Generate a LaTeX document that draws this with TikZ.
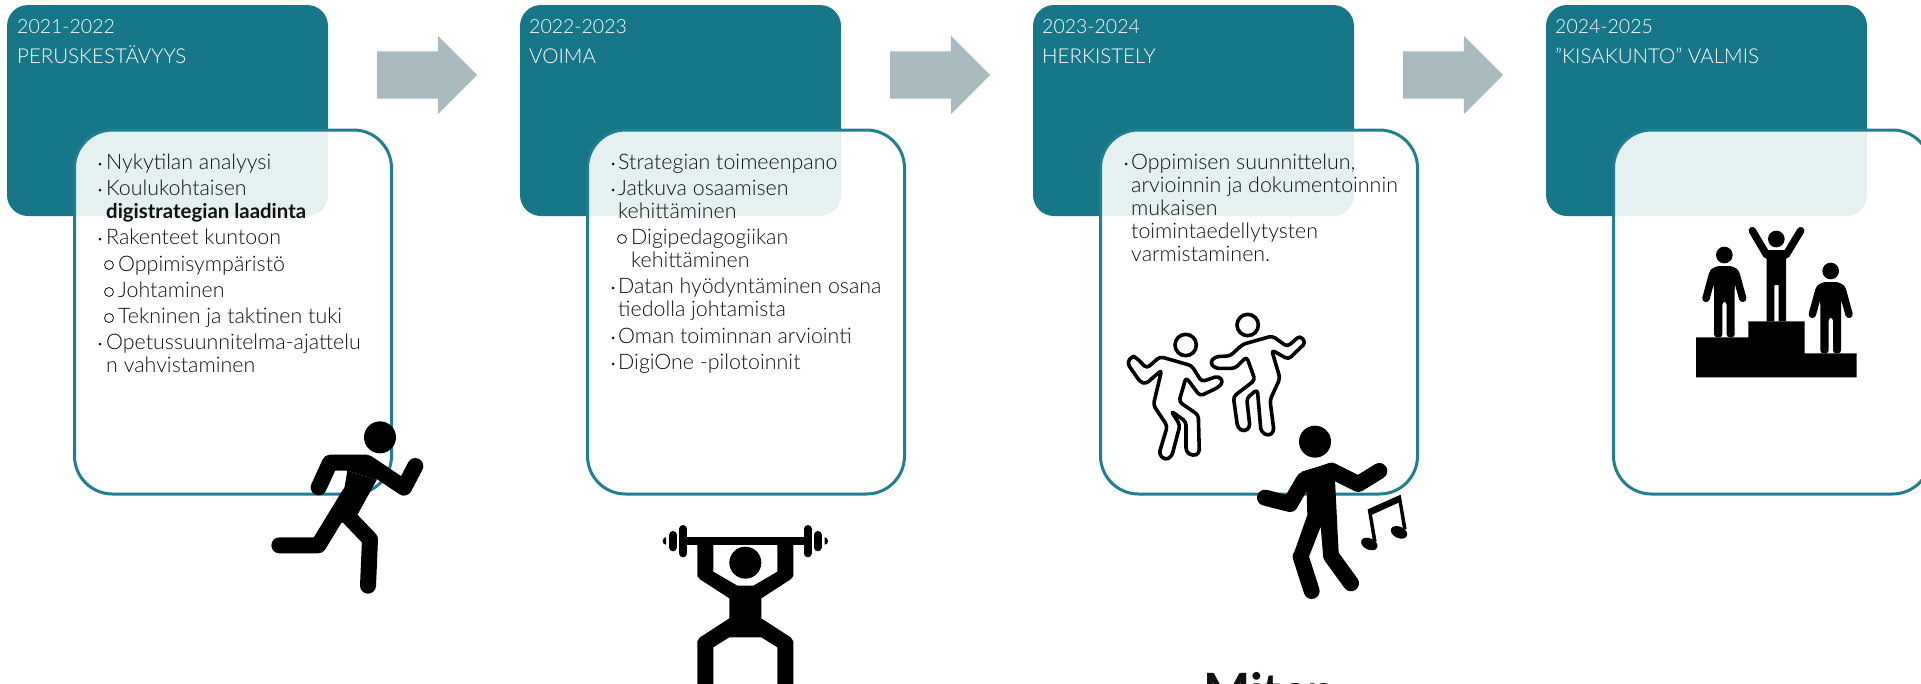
\documentclass[tikz,border=0pt]{standalone}
\usepackage{fontspec}
\setmainfont{Lato Light}[BoldFont=Lato Bold]
\usetikzlibrary{shapes.arrows}
\definecolor{tealbox}{HTML}{157788}
\definecolor{tealline}{HTML}{1F7F91}
\definecolor{greyarrow}{HTML}{AABBC0}
\definecolor{bodyink}{HTML}{111111}
\tikzstyle{yearbox} = [rectangle, rounded corners=21, minimum width=321, minimum height=211, inner sep=0, outer sep=0, fill=tealbox]
\tikzstyle{infobox} = [rectangle, rounded corners=38, minimum width=317, minimum height=364, inner sep=0, outer sep=0, draw=tealline, line width=3, fill=white, fill opacity=0.89]
\tikzstyle{nextarrow} = [single arrow, single arrow head extend=15.5, minimum height=100, inner xsep=0, inner ysep=23.5, outer sep=0, fill=greyarrow, anchor=tail]
\tikzstyle{header} = [anchor=base west, inner sep=0, text=white, font=\fontsize{20.5}{24}\selectfont]
\tikzstyle{yeartext} = [anchor=base west, inner sep=0, text=white, font=\fontsize{19.5}{24}\selectfont]
\tikzstyle{itemtext} = [anchor=base west, inner sep=0, text=bodyink, font=\fontsize{21.4}{24}\selectfont]
\tikzstyle{dotmark} = [circle, minimum size=3, inner sep=0, fill=bodyink]
\tikzstyle{ringmark} = [circle, minimum size=9, inner sep=0, draw=bodyink, line width=0.8]
\tikzstyle{limb} = [line width=16, line cap=round, line join=round, black]
\tikzstyle{plate} = [line width=8, line cap=round, black]
\tikzstyle{thinlimb} = [line width=7.5, line cap=round, line join=round, black]
\tikzstyle{outline} = [line width=3.6, line join=round, rounded corners=3.5, black]
\begin{document}
\begin{tikzpicture}[x=1pt,y=-1pt]
    \useasboundingbox (0,0) rectangle (1921,683);
    \clip (0,0) rectangle (1921,683);

    % year boxes and the boxes over them
    \node (year1) [yearbox] at (167.5,110.5) {};
    \node (year2) [yearbox] at (680.5,110.5) {};
    \node (year3) [yearbox] at (1193.5,110.5) {};
    \node (year4) [yearbox] at (1706.5,110.5) {};
    \node (info1) [infobox] at (233,312) {};
    \node (info2) [infobox] at (746,312) {};
    \node (info3) [infobox] at (1259,312) {};
    \node (info4) [infobox] at (1772,312) {};
    \node (next1) [nextarrow] at (377,75) {};
    \node (next2) [nextarrow] at (890,75) {};
    \node (next3) [nextarrow] at (1403,75) {};

    \node (head1a) [yeartext] at (17,33) {2021-2022};
    \node (head1b) [header] at (17,63) {PERUSKESTÄVYYS};
    \node (head2a) [yeartext] at (529,33) {2022-2023};
    \node (head2b) [header] at (529,63) {VOIMA};
    \node (head3a) [yeartext] at (1042,33) {2023-2024};
    \node (head3b) [header] at (1042,63) {HERKISTELY};
    \node (head4a) [yeartext] at (1555,33) {2024-2025};
    \node (head4b) [header] at (1555,63) {"KISAKUNTO" VALMIS};

    % first column
    \node (dot1a) [dotmark] at (100,164) {};
    \node (item1a) [itemtext] at (106,169) {Nykytilan analyysi};
    \node (dot1b) [dotmark] at (100,190) {};
    \node (item1b) [itemtext] at (106,195) {Koulukohtaisen};
    \node (item1c) [itemtext, font=\fontsize{20.4}{24}\selectfont\bfseries] at (106,218) {digistrategian laadinta};
    \node (dot1d) [dotmark] at (100,239) {};
    \node (item1d) [itemtext] at (106,244) {Rakenteet kuntoon};
    \node (ring1e) [ringmark] at (109,265) {};
    \node (item1e) [itemtext] at (118,271) {Oppimisympäristö};
    \node (ring1f) [ringmark] at (109,292) {};
    \node (item1f) [itemtext] at (118,297) {Johtaminen};
    \node (ring1g) [ringmark] at (109,318) {};
    \node (item1g) [itemtext] at (118,323) {Tekninen ja taktinen tuki};
    \node (dot1h) [dotmark] at (100,344) {};
    \node (item1h) [itemtext] at (106,349) {Opetussuunnitelma-ajattelu};
    \node (item1i) [itemtext] at (106,372) {n vahvistaminen};

    % second column
    \node (dot2a) [dotmark] at (613,164) {};
    \node (item2a) [itemtext] at (618,169) {Strategian toimeenpano};
    \node (dot2b) [dotmark] at (613,190) {};
    \node (item2b) [itemtext] at (618,195) {Jatkuva osaamisen};
    \node (item2c) [itemtext] at (618,218) {kehittäminen};
    \node (ring2d) [ringmark] at (622,239) {};
    \node (item2d) [itemtext] at (631,244) {Digipedagogiikan};
    \node (item2e) [itemtext] at (631,267) {kehittäminen};
    \node (dot2f) [dotmark] at (613,288) {};
    \node (item2f) [itemtext] at (618,293) {Datan hyödyntäminen osana};
    \node (item2g) [itemtext] at (618,316) {tiedolla johtamista};
    \node (dot2h) [dotmark] at (613,338) {};
    \node (item2h) [itemtext] at (618,343) {Oman toiminnan arviointi};
    \node (dot2i) [dotmark] at (613,364) {};
    \node (item2i) [itemtext] at (618,369) {DigiOne -pilotoinnit};

    % third column
    \node (dot3a) [dotmark] at (1126,164) {};
    \node (item3a) [itemtext] at (1131,169) {Oppimisen suunnittelun,};
    \node (item3b) [itemtext] at (1131,192) {arvioinnin ja dokumentoinnin};
    \node (item3c) [itemtext] at (1131,215) {mukaisen};
    \node (item3d) [itemtext] at (1131,238) {toimintaedellytysten};
    \node (item3e) [itemtext] at (1131,261) {varmistaminen.};

    \node (cutword) [anchor=base west, inner sep=0, text=bodyink, font=\fontsize{50}{60}\selectfont\bfseries] at (1203,709) {Miten};

    % runner
    \begin{scope}[shift={(240,380)},scale=1/3]
        \fill (420,172) circle (48);
        \draw [limb] (236,322) -- (270,248) -- (380,248) -- (492,323) -- (526,258);
        \fill (322,272) -- (410,300) -- (348,412) -- (295,432) -- cycle;
        \fill (290,240) -- (400,240) -- (410,300) -- (322,272) -- cycle;
        \draw [limb] (118,496) -- (235,496) -- (330,340);
        \draw [limb] (325,410) -- (390,478) -- (384,617);
    \end{scope}

    % lifter
    \begin{scope}[shift={(640,500)},scale=1/3]
        \fill (316,188) circle (48);
        \fill (68,123) .. controls (70,112) and (78,112) .. (78,112) -- (78,134) .. controls (70,134) and (70,130) .. (68,123) -- cycle;
        \fill (564,123) .. controls (562,112) and (554,112) .. (554,112) -- (554,134) .. controls (562,134) and (562,130) .. (564,123) -- cycle;
        \draw [plate] (99,105) -- (99,142);
        \draw [plate] (129,87) -- (129,160);
        \draw [plate] (503,87) -- (503,160);
        \draw [plate] (533,105) -- (533,142);
        \fill (120,111) rectangle (512,135);
        \fill (172,130) -- (172,228) -- (180,238) -- (268,295) -- (268,355) -- (180,412) -- (172,424) -- (172,570) -- (220,570) -- (220,442) -- (268,412) -- (364,412) -- (412,442) -- (412,570) -- (460,570) -- (460,424) -- (452,412) -- (364,355) -- (364,295) -- (452,238) -- (460,228) -- (460,130) -- (412,130) -- (412,215) -- (340,257) -- (292,257) -- (220,215) -- (220,130) -- cycle;
    \end{scope}

    % two outlined dancers and the dancer with a note
    \begin{scope}[shift={(1100,300)},scale=1/3]
        \draw [line width=3.6, black] (257,135) circle (32);
        \draw [outline] (95,168) -- (108,172) -- (140,205) -- (180,170) -- (275,197) -- (305,245) -- (355,228) -- (370,245) -- (355,262) -- (300,288) -- (258,232) -- (237,305) -- (295,345) -- (298,460) -- (278,468) -- (258,455) -- (258,365) -- (213,333) -- (240,375) -- (215,470) -- (195,480) -- (177,462) -- (202,378) -- (160,315) -- (185,210) -- (137,252) -- (120,245) -- (82,190) -- cycle;
        \draw [line width=3.6, black] (443,75) circle (32);
        \draw [outline] (345,170) -- (390,168) -- (428,133) -- (517,108) -- (562,140) -- (600,107) -- (617,128) -- (565,178) -- (515,150) -- (540,235) -- (510,300) -- (522,395) -- (505,408) -- (483,395) -- (472,268) -- (440,295) -- (450,382) -- (432,395) -- (413,383) -- (400,290) -- (465,240) -- (440,170) -- (405,205) -- (345,205) -- (330,188) -- cycle;
        \fill (645,425) circle (48);
        \draw [limb] (495,593) -- (570,612) -- (612,540) -- (695,512) -- (775,552) -- (838,513);
        \fill (605,515) -- (695,488) -- (705,540) -- (716,760) -- (670,775) -- (662,680) -- (625,775) -- (578,770) -- (622,645) -- (620,580) -- cycle;
        \draw [limb] (602,770) -- (635,873);
        \draw [limb] (695,770) -- (753,850);
        \fill (803,628) -- (902,584) -- (920,688) -- (909,688) -- (896,608) -- (816,644) -- (830,725) -- (819,725) -- cycle;
        \fill [rotate around={-25:(808,732)}] (808,732) ellipse (26 and 17);
        \fill [rotate around={-25:(897,697)}] (897,697) ellipse (26 and 17);
    \end{scope}

    % podium
    \begin{scope}[shift={(1660,200)},scale=1/3]
        \fill (108,532) -- (108,412) -- (265,412) -- (265,364) -- (434,364) -- (434,460) -- (590,460) -- (590,532) -- cycle;
        \fill (193,165) circle (25);
        \draw [thinlimb] (158,222) -- (138,295);
        \draw [thinlimb] (228,222) -- (248,295);
        \fill [rounded corners=3] (147,212) -- (170,198) -- (216,198) -- (239,212) -- (224,260) -- (224,412) -- (200,412) -- (200,305) -- (187,305) -- (187,412) -- (162,412) -- (162,260) -- cycle;
        \fill (349,117) circle (25);
        \draw [thinlimb] (277,92) -- (320,165) -- (378,165) -- (422,92);
        \fill (320,150) -- (378,150) -- (378,364) -- (356,364) -- (356,255) -- (343,255) -- (343,364) -- (320,364) -- cycle;
        \fill (512,213) circle (25);
        \draw [thinlimb] (477,270) -- (457,343);
        \draw [thinlimb] (547,270) -- (567,343);
        \fill [rounded corners=3] (466,260) -- (489,246) -- (535,246) -- (558,260) -- (543,308) -- (543,460) -- (519,460) -- (519,353) -- (506,353) -- (506,460) -- (481,460) -- (481,308) -- cycle;
    \end{scope}
\end{tikzpicture}
\end{document}
